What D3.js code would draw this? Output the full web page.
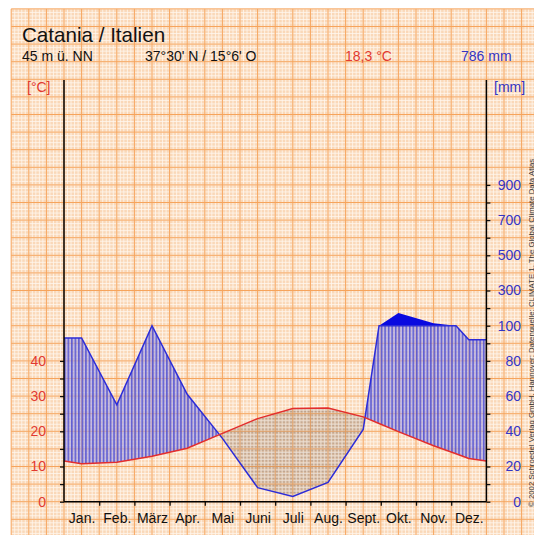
<!DOCTYPE html>
<html>
<head>
<meta charset="utf-8">
<script src="https://cdn.jsdelivr.net/npm/d3@7"></script>
<style>
  body { margin: 0; background: #fff; }
  svg { display: block; font-family: "Liberation Sans", Arial, sans-serif; }
</style>
</head>
<body>
<div id="chart"></div>
<script>
// Catania / Italien climate data
const months = ["Jan.", "Feb.", "März", "Apr.", "Mai", "Juni", "Juli", "Aug.", "Sept.", "Okt.", "Nov.", "Dez."];
const temp = [10.8, 11.2, 12.9, 15.2, 19.4, 23.6, 26.5, 26.6, 24.1, 19.9, 15.9, 12.3]; // °C
const precip = [93, 55, 100, 61, 36, 8, 3, 11, 41, 172, 114, 92]; // mm
const tempTicks = [0, 5, 10, 15, 20, 25, 30, 35, 40];
const tempLabels = [0, 10, 20, 30, 40];
const precipTicks = [0, 10, 20, 30, 40, 50, 60, 70, 80, 90, 100, 200, 300, 400, 500, 600, 700, 800, 900];
const precipLabels = [0, 20, 40, 60, 80, 100, 300, 500, 700, 900];

const width = 534, height = 535;
const cell = 17.6; // graph paper cell
const margin = { left: 64, right: 486.4, bottom: 501.7, top: 80 };

const svg = d3.select("#chart").append("svg")
    .attr("width", width)
    .attr("height", height);

let x = d3.scaleLinear()
    .domain([-0.5, 11.5]) // month centers at integers
    .range([margin.left, margin.right]);

let yT = d3.scaleLinear()
    .domain([0, 50])
    .range([margin.bottom, margin.bottom - 10 * cell]);

// precipitation: 20 mm = 10 °C up to 100 mm, then 100 mm per cell
let yP = d3.scaleLinear()
    .domain([0, 100, 1000])
    .range([margin.bottom, margin.bottom - 10 * cell, margin.bottom - 19 * cell]);

/* graph paper */
const paperX = margin.left - 3 * cell, paperY = margin.bottom - 28 * cell;
const paper = svg.append("g");
paper.append("rect")
    .attr("x", paperX).attr("y", paperY)
    .attr("width", width - paperX).attr("height", height - paperY)
    .attr("fill", "#fad8b8");

const minorX = d3.range(paperX, width, cell / 5);
const minorY = d3.range(paperY, height, cell / 5);
paper.selectAll(".mx").data(minorX).join("line")
    .attr("x1", d => d).attr("x2", d => d)
    .attr("y1", paperY).attr("y2", height)
    .attr("stroke", "#fff8f0").attr("stroke-width", 1).attr("opacity", 0.8);
paper.selectAll(".my").data(minorY).join("line")
    .attr("y1", d => d).attr("y2", d => d)
    .attr("x1", paperX).attr("x2", width)
    .attr("stroke", "#fff8f0").attr("stroke-width", 1).attr("opacity", 0.8);

const majorX = d3.range(paperX, width, cell);
const majorY = d3.range(paperY, height, cell);
paper.selectAll(".Mx").data(majorX).join("line")
    .attr("x1", d => d).attr("x2", d => d)
    .attr("y1", paperY).attr("y2", height)
    .attr("stroke", "#f6a45c").attr("stroke-width", 1);
paper.selectAll(".My").data(majorY).join("line")
    .attr("y1", d => d).attr("y2", d => d)
    .attr("x1", paperX).attr("x2", width)
    .attr("stroke", "#f6a45c").attr("stroke-width", 1);

/* patterns */
const defs = svg.append("defs");
const hatch = defs.append("pattern")
    .attr("id", "humid")
    .attr("patternUnits", "userSpaceOnUse")
    .attr("x", margin.left)
    .attr("width", cell / 5).attr("height", 10);
hatch.append("rect").attr("width", cell / 5).attr("height", 10)
    .attr("fill", "#a29ee6").attr("opacity", 0.6);
hatch.append("rect").attr("width", 1.6).attr("height", 10)
    .attr("fill", "#4040cc").attr("opacity", 0.75);

const dots = defs.append("pattern")
    .attr("id", "arid")
    .attr("patternUnits", "userSpaceOnUse")
    .attr("x", margin.left).attr("y", margin.bottom)
    .attr("width", cell / 5).attr("height", cell / 5);
dots.append("rect").attr("width", cell / 5).attr("height", cell / 5)
    .attr("fill", "#8a7a70").attr("opacity", 0.18);
dots.append("rect").attr("x", 0.6).attr("y", 0.6).attr("width", 2.2).attr("height", 1.6)
    .attr("fill", "#6e5e56").attr("opacity", 0.35);

/* series points incl. edges and crossings */
const tEdge = (temp[0] + temp[11]) / 2;
const U = [-0.5, ...d3.range(12), 11.5];
const T = [tEdge, ...temp, tEdge];
const P = [precip[0], ...precip, precip[11]];

let us = [];
for (let i = 0; i < U.length - 1; i++) {
    us.push(U[i]);
    let cand = [];
    if ((P[i] - 100) * (P[i + 1] - 100) < 0) {
        cand.push(U[i] + (100 - P[i]) / (P[i + 1] - P[i]) * (U[i + 1] - U[i]));
    }
    let d0 = P[i] / 2 - T[i], d1 = P[i + 1] / 2 - T[i + 1];
    if (d0 * d1 < 0) {
        cand.push(U[i] + d0 / (d0 - d1) * (U[i + 1] - U[i]));
    }
    us.push(...cand.sort((a, b) => a - b));
}
us.push(U[U.length - 1]);

const at = (arr, u) => {
    let i = Math.min(d3.bisectRight(U, u) - 1, U.length - 2);
    let f = (u - U[i]) / (U[i + 1] - U[i]);
    return arr[i] + f * (arr[i + 1] - arr[i]);
};
const pts = us.map(u => ({ u: u, t: at(T, u), p: at(P, u) }));
const pc = d => Math.min(d.p, 100) / 2;

// arid (temperature above precipitation)
svg.append("path")
    .datum(pts)
    .attr("fill", "url(#arid)")
    .attr("d", d3.area()
        .x(d => x(d.u))
        .y0(d => yT(pc(d)))
        .y1(d => yT(Math.max(d.t, pc(d)))));

// humid
svg.append("path")
    .datum(pts)
    .attr("fill", "url(#humid)")
    .attr("d", d3.area()
        .x(d => x(d.u))
        .y0(d => yT(d.t))
        .y1(d => yT(Math.max(d.t, pc(d)))));

// above 100 mm
svg.append("path")
    .datum(pts)
    .attr("fill", "#0a0ae0")
    .attr("d", d3.area()
        .x(d => x(d.u))
        .y0(yP(100))
        .y1(d => yP(Math.max(100, d.p))));

// precipitation line
svg.append("path")
    .datum(pts)
    .attr("fill", "none")
    .attr("stroke", "#2c2cd8").attr("stroke-width", 1.5)
    .attr("d", d3.line().x(d => x(d.u)).y(d => yP(Math.min(d.p, 100))));

// temperature line
svg.append("path")
    .datum(pts)
    .attr("fill", "none")
    .attr("stroke", "#e32d2d").attr("stroke-width", 1.5)
    .attr("d", d3.line().x(d => x(d.u)).y(d => yT(d.t)));

/* axes */
const leftAxis = svg.append("g")
    .attr("transform", `translate(${margin.left},0)`)
    .call(d3.axisLeft(yT).tickValues(tempTicks).tickSize(4).tickPadding(14)
        .tickFormat(d => tempLabels.includes(d) ? d : ""));
leftAxis.select(".domain").remove();
leftAxis.selectAll("text").attr("fill", "#e23a30").attr("font-size", 14);

const rightAxis = svg.append("g")
    .attr("transform", `translate(${margin.right},0)`)
    .call(d3.axisRight(yP).tickValues(precipTicks).tickSize(4)
        .tickFormat(d => precipLabels.includes(d) ? d : ""));
rightAxis.select(".domain").remove();
rightAxis.selectAll("text")
    .attr("text-anchor", "end")
    .attr("x", 34.6)
    .attr("fill", "#3434c4").attr("font-size", 14);

const xAxis = svg.append("g")
    .attr("transform", `translate(0,${margin.bottom})`)
    .call(d3.axisBottom(x).tickValues(d3.range(0.5, 11, 1)).tickSize(4).tickFormat(""));
xAxis.select(".domain").remove();

const monthAxis = svg.append("g")
    .attr("transform", `translate(0,${margin.bottom})`)
    .call(d3.axisBottom(x).tickValues(d3.range(12)).tickSize(0).tickPadding(11)
        .tickFormat(i => months[i]));
monthAxis.select(".domain").remove();
monthAxis.selectAll("text").attr("fill", "#111").attr("font-size", 14);

svg.selectAll(".tick line").attr("stroke", "#111").attr("stroke-width", 1.3);

// axis lines
svg.append("line").attr("x1", margin.left).attr("x2", margin.left)
    .attr("y1", margin.top).attr("y2", margin.bottom)
    .attr("stroke", "#000").attr("stroke-width", 1.5);
svg.append("line").attr("x1", margin.right).attr("x2", margin.right)
    .attr("y1", margin.top).attr("y2", margin.bottom)
    .attr("stroke", "#000").attr("stroke-width", 1.5);
svg.append("line").attr("x1", margin.left).attr("x2", margin.right)
    .attr("y1", margin.bottom).attr("y2", margin.bottom)
    .attr("stroke", "#000").attr("stroke-width", 1.5);

/* header texts */
svg.append("text").attr("x", 22).attr("y", 42)
    .attr("font-size", 20.6).attr("fill", "#111")
    .text("Catania / Italien");

const sub = [
    { t: "45 m ü. NN", x: 22, c: "#111" },
    { t: "37°30' N / 15°6' O", x: 145, c: "#111" },
    { t: "18,3 °C", x: 345, c: "#e23a30" },
    { t: "786 mm", x: 461, c: "#3434c4" }
];
svg.selectAll(".sub").data(sub).join("text")
    .attr("x", d => d.x).attr("y", 61)
    .attr("font-size", 14)
    .attr("fill", d => d.c)
    .text(d => d.t);

svg.append("text").attr("x", 27).attr("y", 92)
    .attr("font-size", 14).attr("fill", "#e23a30").text("[°C]");
svg.append("text").attr("x", 494).attr("y", 92)
    .attr("font-size", 14).attr("fill", "#3434c4").text("[mm]");

svg.append("text")
    .attr("transform", "translate(533.5,507) rotate(-90)")
    .attr("font-size", 7.8).attr("fill", "#333")
    .text("© 2002 Schroedel Verlag GmbH, Hannover; Datenquelle: CLIMATE 1, The Global Climate Data Atlas");
</script>
</body>
</html>
